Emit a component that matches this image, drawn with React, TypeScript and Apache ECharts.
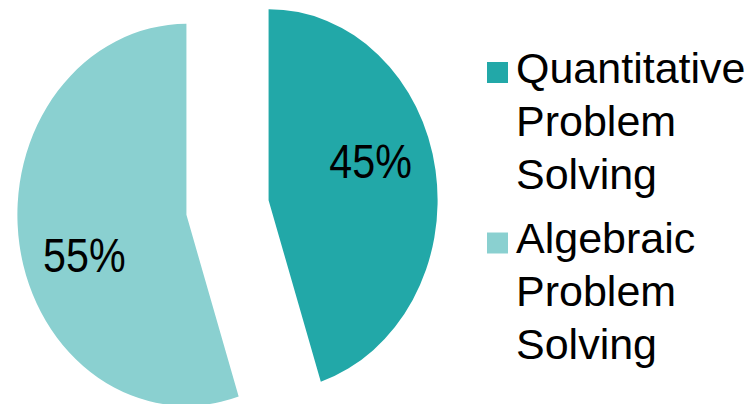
import React, { useEffect, useRef } from "react";
import * as echarts from "echarts";

const categories = ["Quantitative Problem Solving", "Algebraic Problem Solving"];
const values = [45, 55];
const labels = ["45%", "55%"];
const colors = ["#22A8A8", "#8AD0D0"];

const FONT = "'Liberation Sans', Arial, Helvetica, sans-serif";

export default function App() {
  const ref = useRef<HTMLDivElement>(null);

  useEffect(() => {
    if (!ref.current) return;
    const chart = echarts.init(ref.current, undefined, { renderer: "svg" });

    const total = values.reduce((a, b) => a + b, 0);
    const cum: number[] = [];
    let acc = 0;
    values.forEach((v) => {
      cum.push(acc);
      acc += v;
    });

    const CX = 227.5;
    const CY = 207.5;
    const R = 191;
    const SX = 169 / 191;
    const EXPLODE = 47;
    const LABEL_R = 122;
    const LABEL_SHIFT = -0.175;

    const renderItem = (params: any, api: any) => {
      const i = params.dataIndex;
      const v = api.value(0);
      const start = -Math.PI / 2 + (cum[i] / total) * Math.PI * 2;
      const end = start + (v / total) * Math.PI * 2;
      const mid = (start + end) / 2;
      const cx = CX + EXPLODE * Math.cos(mid) * SX;
      const cy = CY + EXPLODE * Math.sin(mid);
      const la = mid + LABEL_SHIFT;
      const lx = cx + LABEL_R * Math.cos(la) * SX;
      const ly = cy + LABEL_R * Math.sin(la);
      return {
        type: "group",
        children: [
          {
            type: "sector",
            x: cx,
            y: cy,
            scaleX: SX,
            shape: { cx: 0, cy: 0, r: R, r0: 0, startAngle: start, endAngle: end, clockwise: true },
            style: { fill: colors[i] },
          },
          {
            type: "text",
            x: lx,
            y: ly,
            scaleX: 0.86,
            style: {
              text: labels[i],
              fontSize: 48,
              fontFamily: FONT,
              fill: "#000000",
              align: "center",
              verticalAlign: "middle",
            },
          },
        ],
      };
    };

    const legendElements: any[] = [];
    categories.forEach((name, i) => {
      const top = 41 + i * 170.5;
      legendElements.push({
        type: "rect",
        left: 487,
        top: top + 21,
        shape: { width: 21, height: 21 },
        style: { fill: colors[i] },
      });
      legendElements.push({
        type: "text",
        left: 516,
        top: top,
        style: {
          text: name.split(" ").join("\n"),
          fontSize: 43,
          lineHeight: 53,
          fontFamily: FONT,
          fill: "#000000",
        },
      });
    });

    chart.setOption({
      animation: false,
      backgroundColor: "#ffffff",
      series: [
        {
          type: "custom",
          coordinateSystem: "none",
          renderItem,
          data: values.map((v, i) => ({ value: [v], name: categories[i] })),
          silent: true,
        },
      ],
      graphic: legendElements,
    });

    return () => chart.dispose();
  }, []);

  return (
    <div
      ref={ref}
      style={{ position: "fixed", left: 0, top: 0, width: 752, height: 404 }}
    />
  );
}
